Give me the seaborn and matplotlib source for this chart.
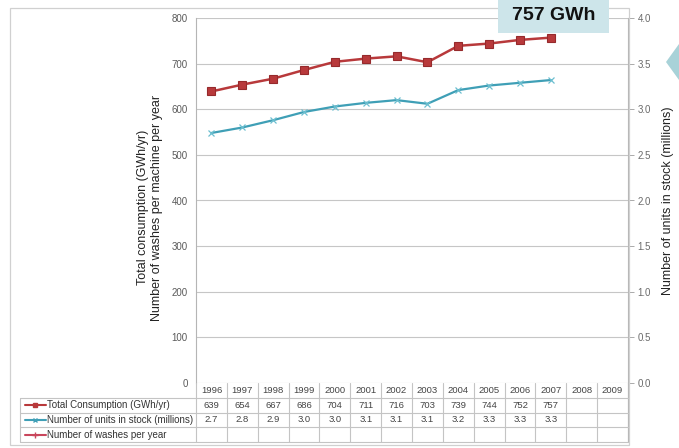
import matplotlib
matplotlib.use("Agg")
import matplotlib.pyplot as plt
from matplotlib.patches import Rectangle, Polygon
import numpy as np
import pandas as pd
import seaborn as sns

# Data
years = ["1996", "1997", "1998", "1999", "2000", "2001", "2002", "2003",
         "2004", "2005", "2006", "2007", "2008", "2009"]
consumption = [639, 654, 667, 686, 704, 711, 716, 703, 739, 744, 752, 757]
stock = [2.74, 2.80, 2.88, 2.97, 3.03, 3.07, 3.10, 3.06, 3.21, 3.26, 3.29, 3.32]
washes = []  # no values given
row_labels = ["Total Consumption (GWh/yr)",
              "Number of units in stock (millions)",
              "Number of washes per year"]
callout = "757 GWh"

RED = "#b8393b"
RED_EDGE = "#962a2c"
TEAL = "#3f9fb6"
PINK = "#c9465c"
GRID = "#c6c6c6"

W, H = 679, 448


def fx(px):
    return px / W


def fy(py):
    return 1 - py / H


sns.set_style("white")
plt.rcParams["font.family"] = ["Liberation Sans", "DejaVu Sans"]

fig = plt.figure(figsize=(W / 100, H / 100), dpi=100)

# outer frame
fig.patches.append(Rectangle((fx(10), fy(445)), fx(629) - fx(10), fy(8) - fy(445),
                             transform=fig.transFigure, fill=False,
                             edgecolor="#d0d0d0", lw=0.9))

left, right, top, bottom = 196, 628, 18, 383
ax = fig.add_axes([fx(left), fy(bottom), fx(right) - fx(left), fy(top) - fy(bottom)])
ax.patch.set_alpha(0)

df = pd.DataFrame({"pos": np.arange(len(consumption)),
                   "consumption": consumption, "stock": stock})

sns.lineplot(data=df, x="pos", y="consumption", ax=ax, color=RED, lw=1.8,
             marker="s", markersize=6, markeredgecolor=RED_EDGE,
             markeredgewidth=0.8)
ax2 = ax.twinx()
sns.lineplot(data=df, x="pos", y="stock", ax=ax2, color=TEAL, lw=1.6,
             marker="x", markersize=4.5, markeredgecolor="#6cbfd0",
             markeredgewidth=0.9)

n = len(years)
ax.set_xlim(-0.5, n - 0.5)
ax.set_ylim(0, 800)
ax2.set_ylim(0, 4)
ax.set_xticks([])
ax.set_xlabel("")
ax.set_yticks(range(0, 801, 100))
ax2.set_yticks(np.arange(0, 4.01, 0.5))
ax2.set_yticklabels([f"{v:.1f}" for v in np.arange(0, 4.01, 0.5)])
ax.grid(axis="y", color=GRID, lw=0.8)
ax.set_axisbelow(True)

ax.tick_params(axis="y", length=0, pad=6, labelsize=7, labelcolor="#5a5a5a")
ax2.tick_params(axis="y", length=4.5, width=0.7, color="#aaaaaa", pad=2.5,
                labelsize=7, labelcolor="#6a6a6a")

for s in ["top", "bottom", "right"]:
    ax.spines[s].set_visible(False)
ax.spines["left"].set_color("#b5b5b5")
ax.spines["left"].set_linewidth(0.8)
for s in ["top", "bottom", "left"]:
    ax2.spines[s].set_visible(False)
ax2.spines["right"].set_color("#b5b5b5")
ax2.spines["right"].set_linewidth(0.8)

ax.set_ylabel("Total consumption (GWh/yr)\nNumber of washes per machine per year",
              fontsize=9, color="#222222", linespacing=1.25)
ax.yaxis.set_label_coords((163 - left) / (right - left), 0.48)
ax2.set_ylabel("Number of units in stock (millions)", fontsize=9, color="#222222")
ax2.yaxis.set_label_coords((662 - left) / (right - left), 0.5)

# data table under the plot
tb_bottom = 442
tab = fig.add_axes([fx(left), fy(tb_bottom), fx(right) - fx(left),
                    fy(bottom) - fy(tb_bottom)])
tab.set_xlim(-0.5, n - 0.5)
tab.set_ylim(4, 0)
tab.axis("off")

colw = (right - left) / n


def px2x(px):
    return -0.5 + (px - left) / colw


x_lab = px2x(20)
lc = "#c4c4c4"
for i in range(n + 1):
    tab.plot([i - 0.5, i - 0.5], [0, 4], color=lc, lw=0.8, clip_on=False)
tab.plot([n - 0.5, n - 0.5], [0, 4], color="#b5b5b5", lw=0.8, clip_on=False)
tab.plot([x_lab, x_lab], [1, 4], color=lc, lw=0.8, clip_on=False)
for r in range(1, 5):
    tab.plot([x_lab, n - 0.5], [r, r], color=lc, lw=0.8, clip_on=False)

tk = dict(fontsize=6.8, color="#444444", ha="center", va="center")
for i, y in enumerate(years):
    tab.text(i, 0.5, y, **tk)
for i, v in enumerate(consumption):
    tab.text(i, 1.5, f"{v}", **tk)
for i, v in enumerate(stock):
    tab.text(i, 2.5, f"{v:.1f}", **tk)
for i, v in enumerate(washes):
    tab.text(i, 3.5, f"{v}", **tk)

glyphs = [(RED, "s", 3.5), (TEAL, "x", 3.5), (PINK, "+", 4)]
g0, g1 = px2x(25), px2x(46)
for r, (lab, (c, m, ms)) in enumerate(zip(row_labels, glyphs), start=1):
    tab.plot([g0, g1], [r + 0.5, r + 0.5], color=c, lw=1.5, clip_on=False)
    tab.plot([(g0 + g1) / 2], [r + 0.5], marker=m, color=c, markersize=ms,
             markeredgewidth=1.0, clip_on=False)
    tab.text(px2x(47), r + 0.5, lab, fontsize=7, color="#333333",
             ha="left", va="center", clip_on=False)

# call-out box
fig.patches.append(Rectangle((fx(498), fy(33)), fx(609) - fx(498), fy(0) - fy(33),
                             transform=fig.transFigure, facecolor="#cde5ea",
                             edgecolor="none", zorder=5))
fig.text(fx(553.5), fy(16), callout, fontsize=14, fontweight="bold",
         color="#111111", ha="center", va="center", zorder=6)

# arrow hint at right edge
fig.patches.append(Polygon([(fx(679), fy(44)), (fx(666), fy(62)), (fx(679), fy(80))],
                           closed=True, transform=fig.transFigure,
                           facecolor="#a8d2d8", edgecolor="none"))

plt.savefig("out.png", dpi=100)
plt.close()
